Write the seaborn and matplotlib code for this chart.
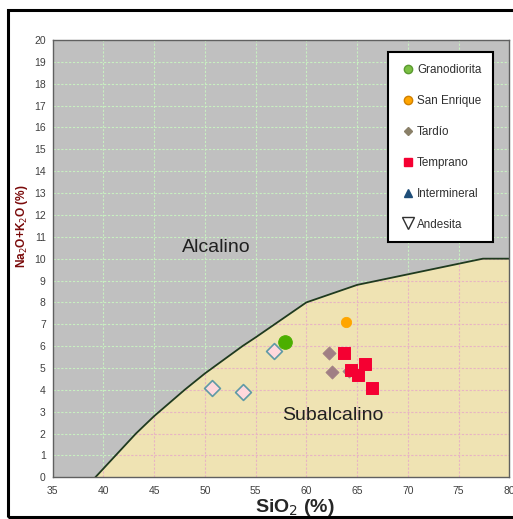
import pandas as pd
import matplotlib.pyplot as plt
import seaborn as sns
from matplotlib.lines import Line2D
from matplotlib.patches import Polygon, Rectangle

# Diagrama TAS (Irvine & Baragar)
limite_x = [39.2, 40, 43.2, 45, 48, 50, 53.7, 55, 60, 65, 77.4, 80]
limite_y = [0, 0.4, 2, 2.8, 4, 4.75, 6, 6.4, 8, 8.8, 10, 10]

grano_x = [57.9]
grano_y = [6.2]
sanenr_x = [63.9]
sanenr_y = [7.1]
tardio_x = [62.2, 62.5, 64.2]
tardio_y = [5.7, 4.8, 4.85]
tempr_x = [63.7, 64.4, 65.05, 65.8, 66.5]
tempr_y = [5.7, 4.93, 4.68, 5.18, 4.1]
andes_x = [56.85, 50.7, 53.8]
andes_y = [5.78, 4.1, 3.9]

grupos = ['Granodiorita', 'San Enrique', 'Tardío', 'Temprano', 'Intermineral', 'Andesita']

df = pd.concat([
    pd.DataFrame({'SiO2': grano_x, 'alc': grano_y, 'grupo': 'Granodiorita'}),
    pd.DataFrame({'SiO2': sanenr_x, 'alc': sanenr_y, 'grupo': 'San Enrique'}),
    pd.DataFrame({'SiO2': tardio_x, 'alc': tardio_y, 'grupo': 'Tardío'}),
    pd.DataFrame({'SiO2': tempr_x, 'alc': tempr_y, 'grupo': 'Temprano'}),
    pd.DataFrame({'SiO2': andes_x, 'alc': andes_y, 'grupo': 'Andesita'}),
], ignore_index=True)

sns.set_style('white')
plt.rcParams['font.family'] = ['Liberation Sans', 'DejaVu Sans']

fig = plt.figure(figsize=(5.13, 5.19), dpi=100)
ax = fig.add_axes([0.1027, 0.0803, 0.8901, 0.8426])
ax.set_facecolor('#c0c0c0')
ax.set_xlim(35, 80)
ax.set_ylim(0, 20)
ax.set_xticks(range(35, 81, 5))
ax.set_yticks(range(0, 21))
ax.set_axisbelow(True)
ax.grid(True, color='#c8f0c0', linestyle=(0, (2, 1.5)), linewidth=0.8)

# zona subalcalina
verts = list(zip(limite_x, limite_y)) + [(80, 0)]
zona = Polygon(verts, closed=True, facecolor='#efe3b3', edgecolor='none', zorder=1)
ax.add_patch(zona)
hl = ax.hlines(range(1, 20), 35, 80, colors='#e8b4c4', linestyles=(0, (2, 1.5)), linewidth=0.8, zorder=1.2)
vl = ax.vlines(range(40, 80, 5), 0, 20, colors='#e8b4c4', linestyles=(0, (2, 1.5)), linewidth=0.8, zorder=1.2)
hl.set_clip_path(zona)
vl.set_clip_path(zona)
ax.plot(limite_x, limite_y, color='#1f3a1f', linewidth=1.3, zorder=2)

estilos = {
    'Granodiorita': dict(marker='o', color='#4caf00', s=95, edgecolor='#4caf00'),
    'San Enrique': dict(marker='o', color='#ffa500', s=55, edgecolor='#ffa500'),
    'Tardío': dict(marker='D', color='#a07f84', s=45, edgecolor='#a07f84'),
    'Temprano': dict(marker='s', color='#f50032', s=75, edgecolor='#f50032'),
    'Andesita': dict(marker='D', color='#ffd8dc', s=65, edgecolor='#5f9aa6', linewidth=1.2),
}
for g in ['Andesita', 'Tardío', 'Granodiorita', 'San Enrique', 'Temprano']:
    sub = df[df['grupo'] == g]
    sns.scatterplot(data=sub, x='SiO2', y='alc', ax=ax, legend=False, zorder=3, **estilos[g])

ax.text(51.1, 10.5, 'Alcalino', fontsize=14, ha='center', va='center', color='#202020')
ax.text(62.6, 2.85, 'Subalcalino', fontsize=14, ha='center', va='center', color='#202020')

for sp in ax.spines.values():
    sp.set_color('#606060')
    sp.set_linewidth(1)
ax.tick_params(axis='both', labelsize=7.5, colors='#404040', length=3, direction='out', width=0.8)
ax.tick_params(axis='y', length=0, pad=5)
ax.set_xlabel('SiO$_2$ (%)', fontsize=14, fontweight='bold')
ax.xaxis.set_label_coords(0.531, -0.045)
ax.set_ylabel('Na$_2$O+K$_2$O (%)', fontsize=8.6, fontweight='bold', color='#7a0a0a')
ax.yaxis.set_label_coords(-0.05, 0.575)

handles = [
    Line2D([], [], marker='o', linestyle='', color='#7bc043', markeredgecolor='#5a9a30', markersize=6),
    Line2D([], [], marker='o', linestyle='', color='#ffa500', markeredgecolor='#d08000', markersize=6),
    Line2D([], [], marker='D', linestyle='', color='#8a8068', markersize=4),
    Line2D([], [], marker='s', linestyle='', color='#f50032', markersize=6),
    Line2D([], [], marker='^', linestyle='', color='#1f4e79', markersize=6),
    Line2D([], [], marker='v', linestyle='', color='white', markeredgecolor='#303030', markersize=8),
]
leg = ax.legend(handles, grupos, loc='upper left', bbox_to_anchor=(0.721, 0.985),
                fontsize=8.4, labelspacing=1.62, handlelength=1.55, handletextpad=-0.05,
                borderpad=1.0, frameon=True, fancybox=False, framealpha=1)
leg.get_frame().set_edgecolor('black')
leg.get_frame().set_linewidth(1.5)
for t in leg.get_texts():
    t.set_color('#303030')

# marco exterior
fig.patches.append(Rectangle((8 / 513, 2 / 519), 1.2, 507 / 519, transform=fig.transFigure,
                             fill=False, edgecolor='black', linewidth=2.2))

fig.savefig('out.png', dpi=100)
